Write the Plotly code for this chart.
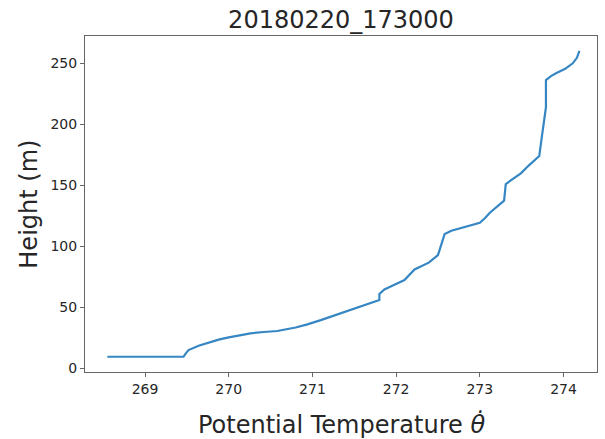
import plotly.graph_objects as go

# Potential temperature profile (K) vs height (m)
theta = [268.55, 269.46, 269.49, 269.52, 269.64, 269.76, 269.88, 270.00, 270.13, 270.26, 270.42, 270.58, 270.80,
         270.94, 271.10, 271.22, 271.35, 271.46, 271.62, 271.72, 271.80, 271.80, 271.86,
         271.98, 272.10, 272.22, 272.39, 272.50, 272.58, 272.66, 272.76, 272.88, 273.00,
         273.06, 273.12, 273.29, 273.30, 273.31, 273.40, 273.49, 273.59, 273.71, 273.74,
         273.77, 273.79, 273.79, 273.85, 273.91, 274.02, 274.11, 274.16, 274.19]
height = [9.5, 9.5, 12.5, 15.0, 18.5, 21.3, 23.5, 25.4, 27.2, 28.7, 29.8, 30.6, 33.5,
          36.0, 39.5, 42.3, 45.2, 47.8, 51.9, 54.0, 56.0, 61.0, 64.7,
          68.5, 72.4, 81.1, 86.6, 92.9, 110.1, 112.8, 114.8, 117.3, 119.3,
          123.0, 127.5, 137.4, 144.8, 151.0, 155.5, 159.8, 166.6, 174.0, 189.3,
          202.0, 213.9, 236.3, 239.5, 241.8, 245.5, 250.0, 254.5, 260.3]

x_ticks = [269, 270, 271, 272, 273, 274]
y_ticks = [0, 50, 100, 150, 200, 250]

title_text = "20180220_173000"
x_label = "Potential Temperature <i>θ̇</i>"
y_label = "Height (m)"

FONT = "DejaVu Sans"
AX = "#666666"
TXT = "#262626"

fig = go.Figure()
fig.add_trace(go.Scatter(x=theta, y=height, mode="lines",
                         line=dict(color="#3586c3", width=2.2)))

axis_common = dict(showline=True, linecolor=AX, linewidth=1, mirror=True,
                   showgrid=False, zeroline=False, ticks="outside", ticklen=4,
                   tickcolor=AX, tickwidth=1,
                   tickfont=dict(family=FONT, size=14, color=TXT))

fig.update_xaxes(range=[268.283, 274.40], tickvals=x_ticks,
                 ticktext=[str(v) for v in x_ticks], **axis_common)
fig.update_yaxes(range=[-3.0, 272.4], tickvals=y_ticks,
                 ticktext=[str(v) for v in y_ticks], **axis_common)

fig.update_layout(
    width=605, height=439,
    margin=dict(l=85, r=8, t=36, b=67),
    plot_bgcolor="white", paper_bgcolor="white",
    showlegend=False,
    title=dict(text=title_text, x=341/605, xref="container", xanchor="center",
               y=1 - 20/439, yref="container", yanchor="middle",
               font=dict(family=FONT, size=24, color=TXT)),
)

fig.add_annotation(text=x_label, xref="paper", yref="paper", x=0.5, y=-0.155,
                   xanchor="center", yanchor="middle", showarrow=False,
                   font=dict(family=FONT, size=24, color=TXT))
fig.add_annotation(text=y_label, xref="paper", yref="paper", x=-0.11, y=0.5,
                   xanchor="center", yanchor="middle", showarrow=False, textangle=-90,
                   font=dict(family=FONT, size=24, color=TXT))

fig.write_html("out.html")
